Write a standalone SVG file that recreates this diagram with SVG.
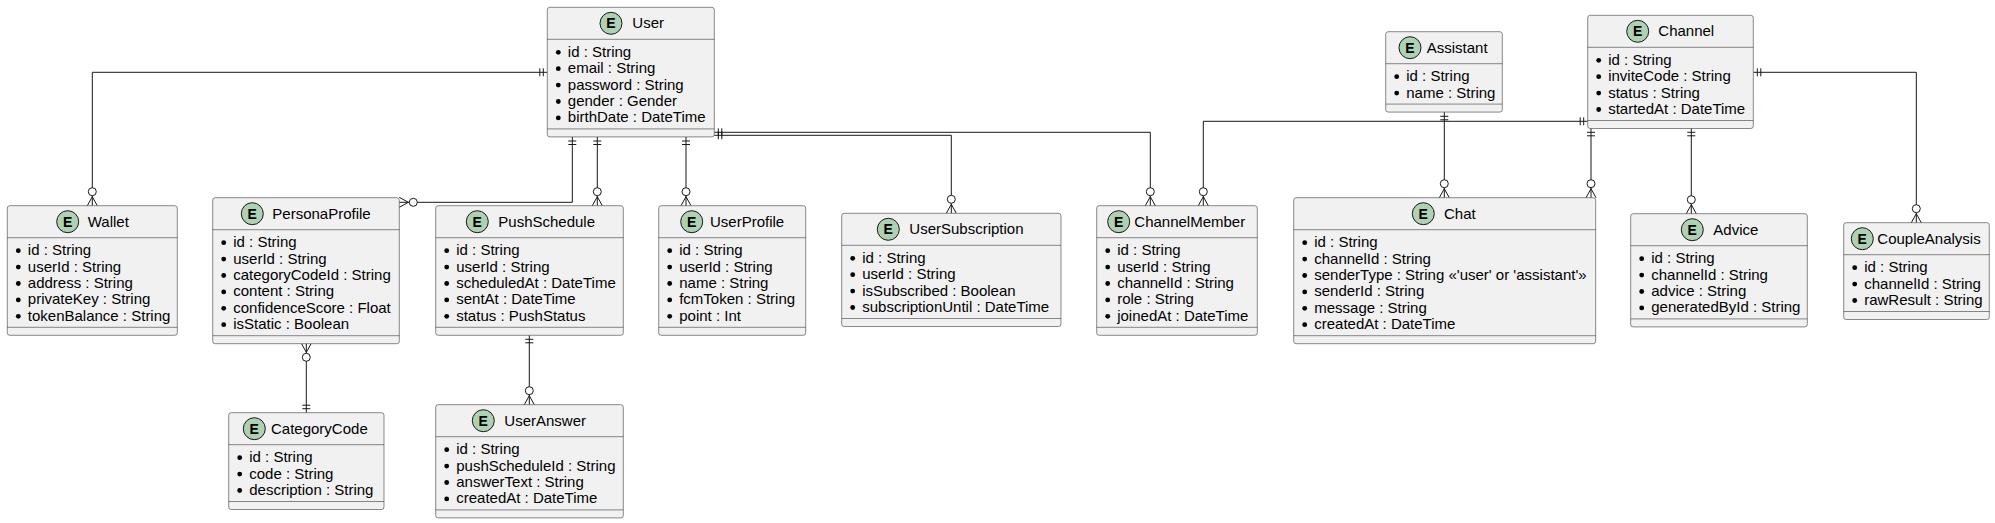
<svg xmlns="http://www.w3.org/2000/svg" xmlns:xlink="http://www.w3.org/1999/xlink" width="1995" height="523" viewBox="0 0 1995 523">
<style>
.box{fill:#F1F1F1;stroke:#181818;stroke-width:0.5}
.sep{stroke:#181818;stroke-width:0.5}
.ec{fill:#ADD1B2;stroke:#181818;stroke-width:1}
.el{font-family:"Liberation Sans",Arial,sans-serif;font-weight:bold;font-size:14px;text-anchor:middle;fill:#000}
.t{font-family:"Liberation Sans",Arial,sans-serif;font-size:15px;fill:#000}
.c{fill:none;stroke:#181818;stroke-width:1}
</style>
<defs>
<g id="zm"><path d="M-5,0 L0,-9 L5,0" fill="none" stroke="#181818" stroke-width="1"/><circle cx="0" cy="-14" r="4" fill="#FFFFFF" stroke="#181818" stroke-width="1"/></g>
<g id="one"><path d="M-4,-4 H4 M-4,-7.5 H4" fill="none" stroke="#181818" stroke-width="1"/></g>
<circle id="bul" r="2.4" fill="#000"/>
</defs>
<rect width="1995" height="523" fill="#FFFFFF"/>

<g id="connectors">
<path class="c" d="M547.3,72.3 H92.3 V205.7"/>
<path class="c" d="M572.3,137 V202.3 H399.3"/>
<path class="c" d="M597.3,137 V205.7"/>
<path class="c" d="M686,137 V205.7"/>
<path class="c" d="M714.3,135.3 H951.3 V213.3"/>
<path class="c" d="M714.3,132.3 H1150.3 V205.7"/>
<path class="c" d="M1587.7,121.3 H1203.3 V205.7"/>
<path class="c" d="M1591,128.3 V197.7"/>
<path class="c" d="M1444.3,112.3 V197.7"/>
<path class="c" d="M1691.3,128.3 V213.7"/>
<path class="c" d="M1753.3,72.3 H1916.3 V222.7"/>
<path class="c" d="M306.3,343.3 V412.7"/>
<path class="c" d="M529.3,335.3 V404.7"/>
<use xlink:href="#one" transform="translate(547.3,72.3) rotate(-90)"/>
<use xlink:href="#zm" transform="translate(92.3,205.7)"/>
<use xlink:href="#one" transform="translate(572.3,137) rotate(180)"/>
<use xlink:href="#zm" transform="translate(399.3,202.3) rotate(90)"/>
<use xlink:href="#one" transform="translate(597.3,137) rotate(180)"/>
<use xlink:href="#zm" transform="translate(597.3,205.7)"/>
<use xlink:href="#one" transform="translate(686,137) rotate(180)"/>
<use xlink:href="#zm" transform="translate(686,205.7)"/>
<use xlink:href="#one" transform="translate(714.3,135.3) rotate(90)"/>
<use xlink:href="#zm" transform="translate(951.3,213.3)"/>
<use xlink:href="#one" transform="translate(714.3,132.3) rotate(90)"/>
<use xlink:href="#zm" transform="translate(1150.3,205.7)"/>
<use xlink:href="#one" transform="translate(1587.7,121.3) rotate(-90)"/>
<use xlink:href="#zm" transform="translate(1203.3,205.7)"/>
<use xlink:href="#one" transform="translate(1591,128.3) rotate(180)"/>
<use xlink:href="#zm" transform="translate(1591,197.7)"/>
<use xlink:href="#one" transform="translate(1444.3,112.3) rotate(180)"/>
<use xlink:href="#zm" transform="translate(1444.3,197.7)"/>
<use xlink:href="#one" transform="translate(1691.3,128.3) rotate(180)"/>
<use xlink:href="#zm" transform="translate(1691.3,213.7)"/>
<use xlink:href="#one" transform="translate(1753.3,72.3) rotate(90)"/>
<use xlink:href="#zm" transform="translate(1916.3,222.7)"/>
<use xlink:href="#zm" transform="translate(306.3,343.3) rotate(180)"/>
<use xlink:href="#one" transform="translate(306.3,412.7)"/>
<use xlink:href="#one" transform="translate(529.3,335.3) rotate(180)"/>
<use xlink:href="#zm" transform="translate(529.3,404.7)"/>
</g>

<g id="User" transform="translate(547.3,7.3)">
<rect class="box" width="167" height="129.6" rx="2.5"/>
<circle class="ec" cx="63.7" cy="16" r="11"/><text class="el" x="63.7" y="21">E</text>
<text class="t" x="85" y="21">User</text>
<line class="sep" x1="0" y1="32" x2="167" y2="32"/>
<use xlink:href="#bul" x="11" y="45"/><text class="t" x="20.5" y="49.5">id : String</text>
<use xlink:href="#bul" x="11" y="61.4"/><text class="t" x="20.5" y="65.9">email : String</text>
<use xlink:href="#bul" x="11" y="77.8"/><text class="t" x="20.5" y="82.3">password : String</text>
<use xlink:href="#bul" x="11" y="94.2"/><text class="t" x="20.5" y="98.7">gender : Gender</text>
<use xlink:href="#bul" x="11" y="110.6"/><text class="t" x="20.5" y="115.1">birthDate : DateTime</text>
<line class="sep" x1="0" y1="121.6" x2="167" y2="121.6"/>
</g>

<g id="Wallet" transform="translate(7.3,205.7)">
<rect class="box" width="170" height="129.6" rx="2.5"/>
<circle class="ec" cx="60.4" cy="16" r="11"/><text class="el" x="60.4" y="21">E</text>
<text class="t" x="80.4" y="21">Wallet</text>
<line class="sep" x1="0" y1="32" x2="170" y2="32"/>
<use xlink:href="#bul" x="11" y="45"/><text class="t" x="20.5" y="49.5">id : String</text>
<use xlink:href="#bul" x="11" y="61.4"/><text class="t" x="20.5" y="65.9">userId : String</text>
<use xlink:href="#bul" x="11" y="77.8"/><text class="t" x="20.5" y="82.3">address : String</text>
<use xlink:href="#bul" x="11" y="94.2"/><text class="t" x="20.5" y="98.7">privateKey : String</text>
<use xlink:href="#bul" x="11" y="110.6"/><text class="t" x="20.5" y="115.1">tokenBalance : String</text>
<line class="sep" x1="0" y1="121.6" x2="170" y2="121.6"/>
</g>

<g id="PersonaProfile" transform="translate(212.7,197.7)">
<rect class="box" width="186.6" height="146" rx="2.5"/>
<circle class="ec" cx="39.6" cy="16" r="11"/><text class="el" x="39.6" y="21">E</text>
<text class="t" x="59.6" y="21">PersonaProfile</text>
<line class="sep" x1="0" y1="32" x2="186.6" y2="32"/>
<use xlink:href="#bul" x="11" y="45"/><text class="t" x="20.5" y="49.5">id : String</text>
<use xlink:href="#bul" x="11" y="61.4"/><text class="t" x="20.5" y="65.9">userId : String</text>
<use xlink:href="#bul" x="11" y="77.8"/><text class="t" x="20.5" y="82.3">categoryCodeId : String</text>
<use xlink:href="#bul" x="11" y="94.2"/><text class="t" x="20.5" y="98.7">content : String</text>
<use xlink:href="#bul" x="11" y="110.6"/><text class="t" x="20.5" y="115.1">confidenceScore : Float</text>
<use xlink:href="#bul" x="11" y="127"/><text class="t" x="20.5" y="131.5">isStatic : Boolean</text>
<line class="sep" x1="0" y1="138" x2="186.6" y2="138"/>
</g>

<g id="PushSchedule" transform="translate(435.7,205.7)">
<rect class="box" width="187.6" height="129.6" rx="2.5"/>
<circle class="ec" cx="41.6" cy="16" r="11"/><text class="el" x="41.6" y="21">E</text>
<text class="t" x="62.6" y="21">PushSchedule</text>
<line class="sep" x1="0" y1="32" x2="187.6" y2="32"/>
<use xlink:href="#bul" x="11" y="45"/><text class="t" x="20.5" y="49.5">id : String</text>
<use xlink:href="#bul" x="11" y="61.4"/><text class="t" x="20.5" y="65.9">userId : String</text>
<use xlink:href="#bul" x="11" y="77.8"/><text class="t" x="20.5" y="82.3">scheduledAt : DateTime</text>
<use xlink:href="#bul" x="11" y="94.2"/><text class="t" x="20.5" y="98.7">sentAt : DateTime</text>
<use xlink:href="#bul" x="11" y="110.6"/><text class="t" x="20.5" y="115.1">status : PushStatus</text>
<line class="sep" x1="0" y1="121.6" x2="187.6" y2="121.6"/>
</g>

<g id="UserProfile" transform="translate(658.7,205.7)">
<rect class="box" width="147" height="129.6" rx="2.5"/>
<circle class="ec" cx="33" cy="16" r="11"/><text class="el" x="33" y="21">E</text>
<text class="t" x="51.3" y="21">UserProfile</text>
<line class="sep" x1="0" y1="32" x2="147" y2="32"/>
<use xlink:href="#bul" x="11" y="45"/><text class="t" x="20.5" y="49.5">id : String</text>
<use xlink:href="#bul" x="11" y="61.4"/><text class="t" x="20.5" y="65.9">userId : String</text>
<use xlink:href="#bul" x="11" y="77.8"/><text class="t" x="20.5" y="82.3">name : String</text>
<use xlink:href="#bul" x="11" y="94.2"/><text class="t" x="20.5" y="98.7">fcmToken : String</text>
<use xlink:href="#bul" x="11" y="110.6"/><text class="t" x="20.5" y="115.1">point : Int</text>
<line class="sep" x1="0" y1="121.6" x2="147" y2="121.6"/>
</g>

<g id="UserSubscription" transform="translate(841.7,213.3)">
<rect class="box" width="219.3" height="113.2" rx="2.5"/>
<circle class="ec" cx="46.6" cy="16" r="11"/><text class="el" x="46.6" y="21">E</text>
<text class="t" x="67.6" y="21">UserSubscription</text>
<line class="sep" x1="0" y1="32" x2="219.3" y2="32"/>
<use xlink:href="#bul" x="11" y="45"/><text class="t" x="20.5" y="49.5">id : String</text>
<use xlink:href="#bul" x="11" y="61.4"/><text class="t" x="20.5" y="65.9">userId : String</text>
<use xlink:href="#bul" x="11" y="77.8"/><text class="t" x="20.5" y="82.3">isSubscribed : Boolean</text>
<use xlink:href="#bul" x="11" y="94.2"/><text class="t" x="20.5" y="98.7">subscriptionUntil : DateTime</text>
<line class="sep" x1="0" y1="105.2" x2="219.3" y2="105.2"/>
</g>

<g id="ChannelMember" transform="translate(1096.7,205.7)">
<rect class="box" width="160.6" height="129.6" rx="2.5"/>
<circle class="ec" cx="22" cy="16" r="11"/><text class="el" x="22" y="21">E</text>
<text class="t" x="37.6" y="21">ChannelMember</text>
<line class="sep" x1="0" y1="32" x2="160.6" y2="32"/>
<use xlink:href="#bul" x="11" y="45"/><text class="t" x="20.5" y="49.5">id : String</text>
<use xlink:href="#bul" x="11" y="61.4"/><text class="t" x="20.5" y="65.9">userId : String</text>
<use xlink:href="#bul" x="11" y="77.8"/><text class="t" x="20.5" y="82.3">channelId : String</text>
<use xlink:href="#bul" x="11" y="94.2"/><text class="t" x="20.5" y="98.7">role : String</text>
<use xlink:href="#bul" x="11" y="110.6"/><text class="t" x="20.5" y="115.1">joinedAt : DateTime</text>
<line class="sep" x1="0" y1="121.6" x2="160.6" y2="121.6"/>
</g>

<g id="Chat" transform="translate(1293.7,197.7)">
<rect class="box" width="302" height="146" rx="2.5"/>
<circle class="ec" cx="129.6" cy="16" r="11"/><text class="el" x="129.6" y="21">E</text>
<text class="t" x="150.3" y="21">Chat</text>
<line class="sep" x1="0" y1="32" x2="302" y2="32"/>
<use xlink:href="#bul" x="11" y="45"/><text class="t" x="20.5" y="49.5">id : String</text>
<use xlink:href="#bul" x="11" y="61.4"/><text class="t" x="20.5" y="65.9">channelId : String</text>
<use xlink:href="#bul" x="11" y="77.8"/><text class="t" x="20.5" y="82.3">senderType : String «'user' or 'assistant'»</text>
<use xlink:href="#bul" x="11" y="94.2"/><text class="t" x="20.5" y="98.7">senderId : String</text>
<use xlink:href="#bul" x="11" y="110.6"/><text class="t" x="20.5" y="115.1">message : String</text>
<use xlink:href="#bul" x="11" y="127"/><text class="t" x="20.5" y="131.5">createdAt : DateTime</text>
<line class="sep" x1="0" y1="138" x2="302" y2="138"/>
</g>

<g id="Assistant" transform="translate(1385.7,31.7)">
<rect class="box" width="116.6" height="80.4" rx="2.5"/>
<circle class="ec" cx="24.3" cy="16" r="11"/><text class="el" x="24.3" y="21">E</text>
<text class="t" x="41" y="21">Assistant</text>
<line class="sep" x1="0" y1="32" x2="116.6" y2="32"/>
<use xlink:href="#bul" x="11" y="45"/><text class="t" x="20.5" y="49.5">id : String</text>
<use xlink:href="#bul" x="11" y="61.4"/><text class="t" x="20.5" y="65.9">name : String</text>
<line class="sep" x1="0" y1="72.4" x2="116.6" y2="72.4"/>
</g>

<g id="Channel" transform="translate(1587.7,15.3)">
<rect class="box" width="165.6" height="113.2" rx="2.5"/>
<circle class="ec" cx="50" cy="16" r="11"/><text class="el" x="50" y="21">E</text>
<text class="t" x="70.6" y="21">Channel</text>
<line class="sep" x1="0" y1="32" x2="165.6" y2="32"/>
<use xlink:href="#bul" x="11" y="45"/><text class="t" x="20.5" y="49.5">id : String</text>
<use xlink:href="#bul" x="11" y="61.4"/><text class="t" x="20.5" y="65.9">inviteCode : String</text>
<use xlink:href="#bul" x="11" y="77.8"/><text class="t" x="20.5" y="82.3">status : String</text>
<use xlink:href="#bul" x="11" y="94.2"/><text class="t" x="20.5" y="98.7">startedAt : DateTime</text>
<line class="sep" x1="0" y1="105.2" x2="165.6" y2="105.2"/>
</g>

<g id="Advice" transform="translate(1630.7,213.7)">
<rect class="box" width="176.6" height="113.2" rx="2.5"/>
<circle class="ec" cx="61.6" cy="16" r="11"/><text class="el" x="61.6" y="21">E</text>
<text class="t" x="82.6" y="21">Advice</text>
<line class="sep" x1="0" y1="32" x2="176.6" y2="32"/>
<use xlink:href="#bul" x="11" y="45"/><text class="t" x="20.5" y="49.5">id : String</text>
<use xlink:href="#bul" x="11" y="61.4"/><text class="t" x="20.5" y="65.9">channelId : String</text>
<use xlink:href="#bul" x="11" y="77.8"/><text class="t" x="20.5" y="82.3">advice : String</text>
<use xlink:href="#bul" x="11" y="94.2"/><text class="t" x="20.5" y="98.7">generatedById : String</text>
<line class="sep" x1="0" y1="105.2" x2="176.6" y2="105.2"/>
</g>

<g id="CoupleAnalysis" transform="translate(1843.7,222.7)">
<rect class="box" width="145.6" height="96.8" rx="2.5"/>
<circle class="ec" cx="18.6" cy="16" r="11"/><text class="el" x="18.6" y="21">E</text>
<text class="t" x="33.6" y="21">CoupleAnalysis</text>
<line class="sep" x1="0" y1="32" x2="145.6" y2="32"/>
<use xlink:href="#bul" x="11" y="45"/><text class="t" x="20.5" y="49.5">id : String</text>
<use xlink:href="#bul" x="11" y="61.4"/><text class="t" x="20.5" y="65.9">channelId : String</text>
<use xlink:href="#bul" x="11" y="77.8"/><text class="t" x="20.5" y="82.3">rawResult : String</text>
<line class="sep" x1="0" y1="88.8" x2="145.6" y2="88.8"/>
</g>

<g id="CategoryCode" transform="translate(228.7,412.7)">
<rect class="box" width="155.3" height="96.8" rx="2.5"/>
<circle class="ec" cx="25.6" cy="16" r="11"/><text class="el" x="25.6" y="21">E</text>
<text class="t" x="42.3" y="21">CategoryCode</text>
<line class="sep" x1="0" y1="32" x2="155.3" y2="32"/>
<use xlink:href="#bul" x="11" y="45"/><text class="t" x="20.5" y="49.5">id : String</text>
<use xlink:href="#bul" x="11" y="61.4"/><text class="t" x="20.5" y="65.9">code : String</text>
<use xlink:href="#bul" x="11" y="77.8"/><text class="t" x="20.5" y="82.3">description : String</text>
<line class="sep" x1="0" y1="88.8" x2="155.3" y2="88.8"/>
</g>

<g id="UserAnswer" transform="translate(435.7,404.7)">
<rect class="box" width="187.6" height="113.2" rx="2.5"/>
<circle class="ec" cx="47.6" cy="16" r="11"/><text class="el" x="47.6" y="21">E</text>
<text class="t" x="68.6" y="21">UserAnswer</text>
<line class="sep" x1="0" y1="32" x2="187.6" y2="32"/>
<use xlink:href="#bul" x="11" y="45"/><text class="t" x="20.5" y="49.5">id : String</text>
<use xlink:href="#bul" x="11" y="61.4"/><text class="t" x="20.5" y="65.9">pushScheduleId : String</text>
<use xlink:href="#bul" x="11" y="77.8"/><text class="t" x="20.5" y="82.3">answerText : String</text>
<use xlink:href="#bul" x="11" y="94.2"/><text class="t" x="20.5" y="98.7">createdAt : DateTime</text>
<line class="sep" x1="0" y1="105.2" x2="187.6" y2="105.2"/>
</g>
</svg>
